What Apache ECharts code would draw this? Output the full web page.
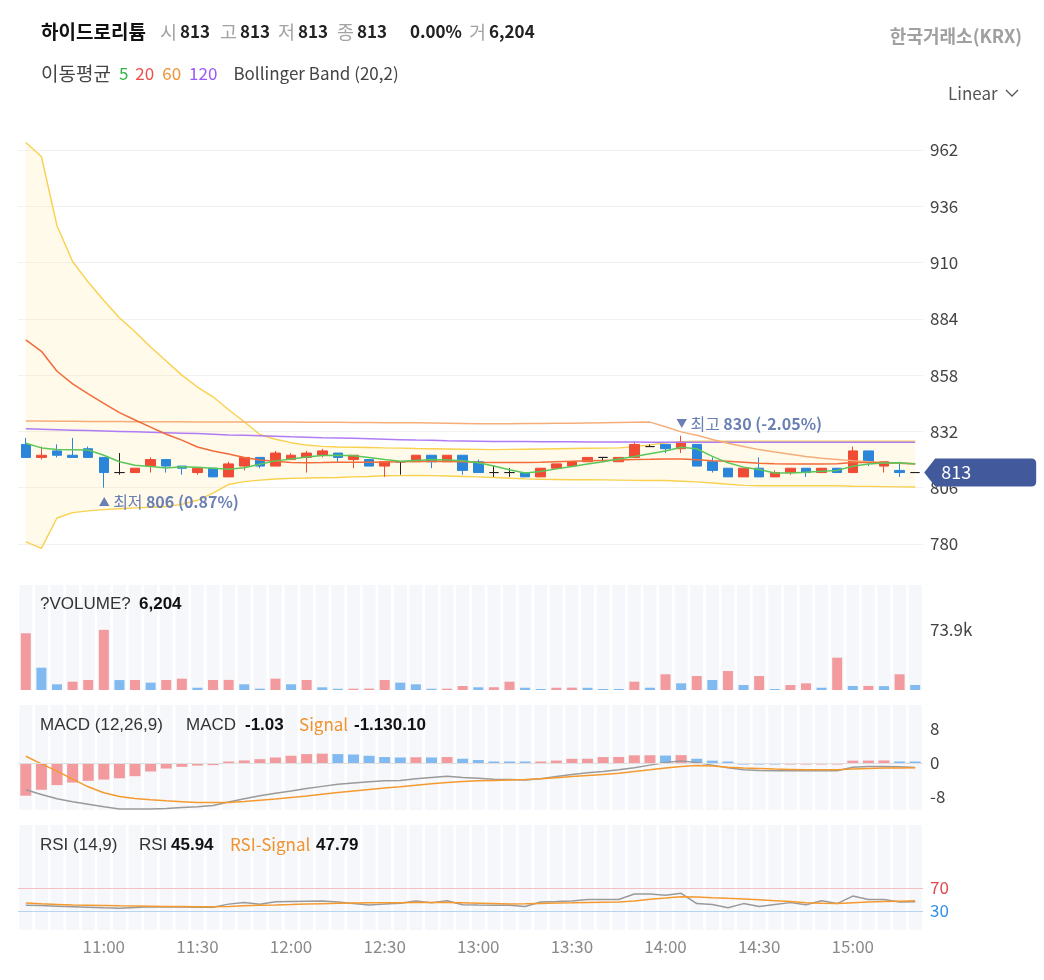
<!DOCTYPE html>
<html><head><meta charset="utf-8">
<script src="https://cdn.jsdelivr.net/npm/echarts@6/dist/echarts.min.js"></script>
<style>html,body{margin:0;padding:0;background:#fff}#c{width:1044px;height:980px}</style>
</head><body><div id="c"></div>
<script>
const times = ['10:35','10:40','10:45','10:50','10:55','11:00','11:05','11:10','11:15','11:20','11:25','11:30','11:35','11:40','11:45','11:50','11:55','12:00','12:05','12:10','12:15','12:20','12:25','12:30','12:35','12:40','12:45','12:50','12:55','13:00','13:05','13:10','13:15','13:20','13:25','13:30','13:35','13:40','13:45','13:50','13:55','14:00','14:05','14:10','14:15','14:20','14:25','14:30','14:35','14:40','14:45','14:50','14:55','15:00','15:05','15:10','15:15','15:20'];
// [open, close, low, high]
const ohlc = [[826,820,820,829],[820,821,819,825],[823,821,820,826],[821,820,820,829],[824,820,820,825],[820,813,806,820],[813,813,812,822],[813,815,813,815],[816,819,813,820],[819,816,813,819],
[816,815,812,816],[813,815,812,815],[815,811,811,815],[811,817,811,818],[816,820,814,820],[820,816,815,820],[816,822,816,823],[819,821,819,822],[820,822,813,823],[821,823,820,824],
[822,820,818,822],[819,821,815,821],[819,816,816,819],[816,818,811,818],[818,818,812,818],[818,821,818,821],[821,818,815,821],[818,821,818,821],[821,814,812,821],[818,813,813,819],
[813,813,811,816],[813,813,811,815],[813,811,811,813],[811,815,811,815],[815,817,815,817],[816,818,816,818],[818,820,818,820],[820,820,818,820],[818,820,818,820],[820,826,820,827],
[825,825,825,826],[826,824,822,826],[824,827,822,830],[826,816,816,826],[818,814,813,820],[815,811,811,815],[811,815,811,815],[815,811,811,820],[811,813,811,814],[813,815,812,815],
[815,813,811,815],[813,815,813,815],[815,813,813,815],[813,823,813,825],[823,818,816,823],[816,818,813,818],[814,813,811,818],[813,813,813,813]];
const ma5 = [826.5,824.4,823.6,823.5,823.4,821,818,816.4,815.8,815.1,815.7,815.5,815,814.5,815.2,816.8,818.4,819.3,820.2,820.9,821,820.8,820,819,818.2,818.6,819,818.8,818.5,817.5,816,814.3,812.8,813.5,814.7,815.8,817,818,819.3,820.4,821.7,823,824.7,824,820.5,817.5,815.5,814.4,812.8,812.8,813.1,813.6,814,815.9,817,817.4,817.5,817];
const ma20 = [874.3,869,859.8,854,849.3,845,840.7,837.3,834,830.7,828,824.8,823,821.6,820,818.8,818.2,817.7,817.5,817.6,817.8,817.8,817.8,817.9,818,818.1,818.2,818.1,818,817.8,817.7,817.7,817.7,817.8,818,818.2,818.4,818.6,818.8,819,819.1,819.3,819.3,818.9,818.5,818.2,817.8,817.3,817.1,817,817,817,817.1,817.6,817.7,817.5,817.3,817.1];
const ma60 = [836.8,836.8,836.7,836.7,836.6,836.6,836.6,836.5,836.5,836.5,836.5,836.4,836.4,836.4,836.4,836.4,836.3,836.3,836.2,836.2,836.2,836.1,836.1,836,836,836,835.9,835.8,835.7,835.6,835.6,835.6,835.7,835.7,835.8,835.8,835.9,836,836.1,836.2,836.3,834.2,831.8,830.2,828.3,826.5,825,823.6,822.5,821.5,820.4,819.6,819,818.4,818,817.6,817.3,817.1];
const ma120 = [833.2,833,832.8,832.6,832.4,832.2,832,831.8,831.6,831.4,831.2,831,830.7,830.4,830.2,830,829.8,829.5,829.3,829.1,829,828.8,828.6,828.4,828.2,828,827.9,827.7,827.6,827.5,827.4,827.3,827.3,827.2,827.2,827.2,827.1,827.1,827.1,827.1,827,827,827,827,827,827,827,827,827,827,827,827,827,827,827,827,827,827];
const bbUpper = [965.5,959,927,910.5,901,892.5,884.5,878,871,864.5,858,852.5,848,842,836.5,830.6,828.4,826.8,825.7,825.1,824.8,824.7,824.6,824.4,824.3,824.1,824,823.9,823.8,823.7,823.6,823.7,823.8,823.9,824,824.1,824.2,824.3,824.4,825,825.8,826.7,827.3,827.5,827.5,827.5,827.5,827.5,827.5,827.5,827.5,827.5,827.5,827.5,827.5,827.5,827.5,827.5];
const bbLower = [781,778,792,794.5,795.3,795.9,796.3,796.7,797,797.3,798.3,800.2,803.5,807.5,808.8,809.5,810,810.3,810.5,810.6,810.7,811,811.2,811.5,811.6,811.7,811.6,811.4,811.2,811,810.7,810.4,810.1,809.9,809.8,809.7,809.7,809.6,809.5,809.4,809.3,809.3,809,808.7,808.2,807.6,807.1,806.9,806.9,806.9,806.9,806.9,806.9,806.7,806.6,806.5,806.4,806.3];
const volumes = [69700,27400,7000,10200,12300,73900,12200,12300,9000,12300,13900,2800,12300,12400,7000,1600,13900,7000,12300,3300,1500,1600,1700,12300,9000,7000,1500,1600,4900,3300,3400,10200,2800,1200,2800,2900,2700,1200,1100,10200,2800,19300,8200,17200,12300,23300,6100,17200,1200,6100,8200,2800,39700,4900,5000,4800,19300,6204];
const macdHist = [-7.7,-6.3,-5.2,-4.6,-4.2,-3.9,-3.6,-3.1,-2.0,-1.3,-0.9,-0.6,-0.5,0.05,0.6,0.9,1.3,1.7,2.1,2.2,2.1,2.0,1.7,1.4,1.3,1.35,1.3,1.4,1.0,0.7,0.3,0.25,0.15,0.2,0.57,0.98,1.0,1.4,1.42,1.8,1.82,1.75,1.85,1.0,0.55,0.02,-0.2,-0.25,-0.3,-0.25,-0.2,-0.05,-0.02,0.55,0.57,0.6,0.15,0.12];
const macdLine = [-6.3,-7.4,-8.4,-9.1,-9.7,-10.3,-10.8,-10.8,-10.8,-10.7,-10.5,-10.3,-10.0,-9.2,-8.4,-7.7,-7.1,-6.6,-6.0,-5.5,-5.0,-4.7,-4.4,-4.2,-4.1,-3.7,-3.4,-3.1,-3.4,-3.6,-3.8,-3.9,-4.0,-3.7,-3.2,-2.7,-2.3,-2.0,-1.6,-1.1,-0.5,0.1,0.5,0.1,-0.5,-1.1,-1.6,-1.75,-1.84,-1.84,-1.84,-1.84,-1.8,-1.0,-0.85,-0.8,-0.9,-1.03];
const signalLine = [1.6,-0.2,-1.9,-3.8,-5.6,-7.0,-7.9,-8.35,-8.65,-8.9,-9.1,-9.3,-9.3,-9.3,-9.05,-8.75,-8.45,-8.1,-7.75,-7.35,-6.95,-6.6,-6.25,-5.9,-5.6,-5.25,-4.9,-4.6,-4.35,-4.2,-4.1,-4.0,-3.9,-3.7,-3.45,-3.2,-2.95,-2.7,-2.4,-2.0,-1.6,-1.15,-0.8,-0.6,-0.7,-1.0,-1.2,-1.3,-1.44,-1.5,-1.58,-1.6,-1.6,-1.4,-1.3,-1.2,-1.15,-1.13];
const rsiLine = [40,39.5,38.5,37.5,36.5,35.5,35,36,37.5,37,36.8,36.6,36.4,42,45,41.6,46,46.5,47,47.4,45.5,43,40.4,42,43.4,47.4,44.4,47.9,41,40.4,40.2,40,38,45.8,46.5,47.5,50,50,50,59.7,59.7,57.3,60.9,42.9,41.5,35.6,42.9,38,41.5,44.6,41,47.7,42.9,56,50,50,45.8,45.94];
const rsiSignal = [44,42.5,41.5,40.5,40,39.5,39,38.7,38.3,38,37.8,37.6,37.5,38,39,40,40.5,41.2,42,42.8,43.4,43.8,44.2,44.4,44.6,44.8,45,44.8,44.2,43.6,43,42.2,42.5,43.2,43.8,44.2,44.8,45.3,45.7,47.5,50.5,52.5,54.8,54.5,53.2,52,51,49.5,48,46.5,44.5,43.5,43,44.5,45.8,46.5,47.2,47.79];

const FONT = 'Noto Sans CJK KR';
const UP = '#ef4b35', DOWN = '#2b86d9', DOJI = '#222';
const VUP = '#f29a9d', VDN = '#80baf0';
const n = times.length;
const last = ohlc[n - 1];
const prevClose = ohlc[n - 2][1];
const fmt = v => v.toLocaleString('en-US');
let hiIdx = 0, loIdx = 0;
ohlc.forEach((d, i) => { if (d[3] > ohlc[hiIdx][3]) hiIdx = i; if (d[2] < ohlc[loIdx][2]) loIdx = i; });
const hi = ohlc[hiIdx][3], lo = ohlc[loIdx][2];
const pct = (a, b) => ((a / b - 1) * 100).toFixed(2) + '%';

const candleData = ohlc.map(d => d[0] === d[1]
  ? {value: d, itemStyle: {color: DOJI, color0: DOJI, borderColor: DOJI, borderColor0: DOJI, borderColorDoji: DOJI}}
  : d);
const volData = volumes.map((v, i) => ({value: v, itemStyle: {color: (i === 0 || v >= volumes[i - 1]) ? VUP : VDN}}));
const histData = macdHist.map((v, i) => ({value: v, itemStyle: {color: (i === 0 || v >= macdHist[i - 1]) ? VUP : VDN}}));
const zeros = times.map(() => 0);
const bbWidth = bbUpper.map((u, i) => +(u - bbLower[i]).toFixed(2));

const base = {fontFamily: FONT, fontSize: 17, lineHeight: 24, fontWeight: 'normal'};
const lib = {fontFamily: 'Liberation Sans', fontSize: 17, lineHeight: 24, fontWeight: 'normal'};
const RICH = {
  name: {...base, fontSize: 19, fontWeight: 'bold', color: '#111'},
  g: {...base, fontSize: 18.5, color: '#a3a3a3', padding: [0, 3, 0, 0]},
  b: {...base, fontWeight: 'bold', color: '#222'},
  d: {...base, fontSize: 19, color: '#444'},
  c5: {...base, color: '#2fb344', padding: [0, 0, 0, 8]},
  c20: {...base, color: '#ee4d4d', padding: [0, 0, 0, 7]},
  c60: {...base, color: '#ef9336', padding: [0, 0, 0, 8]},
  c120: {...base, color: '#9a5cf0', padding: [0, 0, 0, 8]},
  d2: {...base, color: '#444', padding: [0, 0, 0, 16]},
  krx: {...base, fontSize: 18, fontWeight: 'bold', color: '#a0a0a0'},
  lin: {...base, color: '#555'},
  pt: {...lib, color: '#333'},
  pb: {...lib, fontWeight: 'bold', color: '#111'},
  po: {...base, color: '#f0922e'}
};
const T = (left, top, text, extra) => Object.assign({left, top, padding: 0, text, textStyle: {fontWeight: 'normal', rich: RICH}}, extra || {});

const titles = [
  T(41, 20, '{name|하이드로리튬}'),
  T(160, 20, '{g|시}{b|' + last[0] + '}'),
  T(220, 20, '{g|고}{b|' + last[3] + '}'),
  T(278, 20, '{g|저}{b|' + last[2] + '}'),
  T(337, 20, '{g|종}{b|' + last[1] + '}'),
  T(410, 20, '{b|' + pct(last[1], prevClose) + '}'),
  T(469, 20, '{g|거}{b|' + fmt(volumes[n - 1]) + '}'),
  {right: 22, top: 24, padding: 0, text: '{krx|한국거래소(KRX)}', textStyle: {fontWeight: 'normal', rich: RICH}},
  T(41, 62, '{d|이동평균}{c5|5}{c20|20}{c60|60}{c120|120}{d2|Bollinger Band (20,2)}'),
  T(948, 82, '{lin|Linear}'),
  T(40, 592, '{pt|?VOLUME?}'),
  T(139, 592, '{pb|' + fmt(volumes[n - 1]) + '}'),
  T(40, 713, '{pt|MACD (12,26,9)}'),
  T(186, 713, '{pt|MACD}'),
  T(245, 713, '{pb|' + macdLine[n - 1].toFixed(2) + '}'),
  T(299, 713, '{po|Signal}'),
  T(354, 713, '{pb|-1.130.10}'),
  T(40, 833, '{pt|RSI (14,9)}'),
  T(139, 833, '{pt|RSI}'),
  T(171, 833, '{pb|' + rsiLine[n - 1].toFixed(2) + '}'),
  T(230, 833, '{po|RSI-Signal}'),
  T(316, 833, '{pb|' + rsiSignal[n - 1].toFixed(2) + '}')
];

const GL = 18, GW = 905;
const grids = [
  {left: GL, width: GW, top: 150, height: 394},
  {left: GL, width: GW, top: 585, height: 105},
  {left: GL, width: GW, top: 705, height: 105},
  {left: GL, width: GW, top: 825, height: 105}
];
const xA = (gi, labels) => ({
  type: 'category', data: times, gridIndex: gi, boundaryGap: true,
  axisLine: {show: false}, axisTick: {show: false}, splitLine: {show: false},
  axisPointer: {show: false},
  axisLabel: labels ? {
    show: true, color: '#8a8a8a', fontSize: 17, fontFamily: FONT, margin: 8,
    interval: (i, v) => v.endsWith(':00') || v.endsWith(':30')
  } : {show: false}
});
const yCommon = {position: 'right', axisLine: {show: false}, axisTick: {show: false}};
const labelStyle = {color: '#444', fontSize: 17, fontFamily: FONT, margin: 7};

const stripe = (xi, yi) => ({
  type: 'bar', xAxisIndex: xi, yAxisIndex: yi, data: zeros, barWidth: 13, silent: true, z: 1,
  showBackground: true, backgroundStyle: {color: '#f5f7fa'}, itemStyle: {color: 'rgba(0,0,0,0)'}
});
const ln = (name, data, color, xi, yi, extra) => Object.assign({
  type: 'line', name, data, xAxisIndex: xi, yAxisIndex: yi, symbol: 'none', smooth: false,
  lineStyle: {color, width: 1.5}, itemStyle: {color}, silent: true, z: 4
}, extra || {});

const annLabel = (arrow, word, txt, offY) => ({
  show: true, position: 'inside', align: 'left', verticalAlign: 'middle', offset: [-5, offY],
  formatter: '{t|' + arrow + '} {a|' + word + '} {b|' + txt + '}',
  rich: {
    t: {fontSize: 11, color: '#6a7fb3', fontFamily: FONT},
    a: {fontSize: 16, color: '#6a7fb3', fontFamily: FONT},
    b: {fontSize: 16, color: '#6a7fb3', fontFamily: FONT, fontWeight: 'bold'}
  }
});

const option = {
  animation: false,
  backgroundColor: '#fff',
  title: titles,
  graphic: [{type: 'polyline', shape: {points: [[1006, 90], [1012, 96], [1018, 90]]}, style: {stroke: '#555', lineWidth: 1.3, fill: null}}],
  grid: grids,
  xAxis: [xA(0), xA(1), xA(2), xA(3, true), xA(1), xA(2), xA(3)],
  yAxis: [
    Object.assign({gridIndex: 0, min: 780, max: 962, interval: 26, splitLine: {lineStyle: {color: '#f1f1f1'}}, axisLabel: labelStyle}, yCommon),
    Object.assign({gridIndex: 1, min: 0, max: 129000, splitLine: {show: false},
      axisLabel: Object.assign({customValues: [Math.max(...volumes)], formatter: v => (v / 1000).toFixed(1) + 'k'}, labelStyle)}, yCommon),
    Object.assign({gridIndex: 2, min: -11.06, max: 13.65, splitLine: {show: false},
      axisLabel: Object.assign({customValues: [-8, 0, 8]}, labelStyle)}, yCommon),
    Object.assign({gridIndex: 3, min: -3, max: 179.6, splitLine: {show: false}, axisLabel: {show: false}}, yCommon)
  ],
  series: [
    stripe(4, 1), stripe(5, 2), stripe(6, 3),
    ln('BB lower', bbLower, '#f9d14f', 0, 0, {stack: 'bb', clip: false, z: 2, lineStyle: {color: '#f9d14f', width: 1.4}}),
    ln('BB upper', bbWidth, '#f9d14f', 0, 0, {stack: 'bb', clip: false, z: 2, lineStyle: {color: '#f9d14f', width: 1.4},
      areaStyle: {color: 'rgba(252,218,100,0.2)', origin: 'auto'}}),
    {
      type: 'candlestick', name: 'price', data: candleData, xAxisIndex: 0, yAxisIndex: 0, barWidth: 10, z: 3,
      itemStyle: {color: UP, color0: DOWN, borderColor: UP, borderColor0: DOWN, borderColorDoji: DOJI, borderWidth: 1},
      markPoint: {
        silent: true, animation: false,
        data: [
          {coord: [times[hiIdx], hi], symbol: 'circle', symbolSize: 1, itemStyle: {color: 'rgba(0,0,0,0)'},
            label: annLabel('▼', '최고', hi + ' (' + pct(last[1], hi) + ')', -12)},
          {coord: [times[loIdx], lo], symbol: 'circle', symbolSize: 1, itemStyle: {color: 'rgba(0,0,0,0)'},
            label: annLabel('▲', '최저', lo + ' (' + pct(last[1], lo) + ')', 14)},
          {coord: [times[n - 1], last[1]], symbol: 'path://M0,14 L11,0 L107,0 Q112,0 112,5 L112,23 Q112,28 107,28 L11,28 Z',
            symbolSize: [112, 28], symbolOffset: [65, 0], symbolKeepAspect: false, itemStyle: {color: '#42599b'},
            label: {show: true, position: 'inside', color: '#fff', fontSize: 18, fontFamily: FONT, offset: [-24, 0], formatter: String(last[1])}}
        ]
      }
    },
    ln('MA120', ma120, '#b07cf5', 0, 0),
    ln('MA60', ma60, '#f5ae7a', 0, 0),
    ln('MA20', ma20, '#f26b3a', 0, 0),
    ln('MA5', ma5, '#5bc75b', 0, 0),
    {type: 'bar', name: 'volume', data: volData, xAxisIndex: 1, yAxisIndex: 1, barWidth: 10, barMinHeight: 1, z: 3, silent: true},
    {type: 'bar', name: 'hist', data: histData, xAxisIndex: 2, yAxisIndex: 2, barWidth: 11, barMinHeight: 1.5, z: 3, silent: true,
      markLine: {silent: true, symbol: 'none', label: {show: false}, lineStyle: {color: '#e0e0e0', width: 1, type: 'solid'}, data: [{yAxis: 0}]}},
    ln('MACD', macdLine, '#9a9a9a', 2, 2),
    ln('Signal', signalLine, '#f59a2f', 2, 2),
    ln('RSI', rsiLine, '#9a9a9a', 3, 3, {
      markLine: {silent: true, symbol: 'none',
        label: {position: 'end', formatter: p => String(p.value), fontSize: 17, fontFamily: FONT, distance: 7},
        data: [
          {yAxis: 70, lineStyle: {color: '#f6c0c3', width: 1, type: 'solid'}, label: {color: '#e0474c'}},
          {yAxis: 30, lineStyle: {color: '#b8d5f1', width: 1, type: 'solid'}, label: {color: '#3590e6'}}
        ]}
    }),
    ln('RSI-Signal', rsiSignal, '#f59a2f', 3, 3)
  ]
};
const chart = echarts.init(document.getElementById('c'));
chart.setOption(option);
</script>
</body></html>
